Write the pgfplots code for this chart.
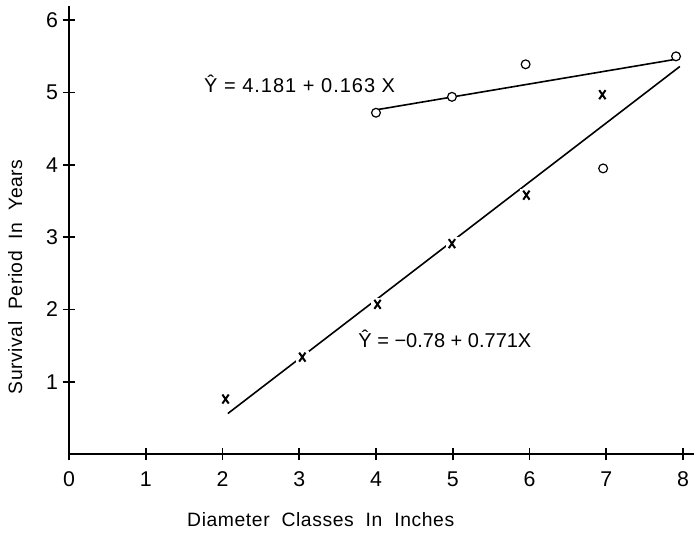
\documentclass[border=0pt]{standalone}
\usepackage{pgfplots}
\pgfplotsset{compat=1.18}
\usepackage{fontspec}
\setmainfont{Liberation Sans}
\begin{document}
\begin{tikzpicture}
\path[use as bounding box] (-51.75pt,-69.75pt) rectangle (470.25pt,340.5pt);
\begin{axis}[
  at={(0,0)}, anchor=south west,
  scale only axis, width=469.1pt, height=336.2pt,
  xmin=0, xmax=8.15, ymin=0, ymax=6.2,
  axis lines=left, axis line style={-, line width=1.4pt},
  xtick={0,...,8}, ytick={1,...,6},
  tick style={line width=1.2pt, black},
  major tick length=9.5pt,
  tick label style={font=\fontsize{16}{18}\selectfont},
  xticklabel style={yshift=-5pt},
  /pgf/number format/assume math mode=true,
  clip=false,
]
% upper regression line
\addplot[black, line width=1.2pt] coordinates {(4.0,4.76) (7.91,5.46)};
% lower regression line
\addplot[black, line width=1.2pt] coordinates {(2.07,0.56) (7.96,5.36)};
% white gaps under x marks
\addplot[only marks, mark=square*, mark size=4.5pt, white] coordinates {
(3.04,1.34) (4.02,2.07) (4.99,2.91) (5.96,3.58)};
% x marks
\addplot[only marks, mark=x, mark size=4.8pt, mark options={xscale=0.7, line width=1.5pt}, black] coordinates {
(2.04,0.76) (3.04,1.34) (4.02,2.07) (4.99,2.91) (5.96,3.58) (6.95,4.97)};
% circles
\addplot[only marks, mark=*, mark size=3.3pt, mark options={fill=white, draw=black, line width=0.9pt}] coordinates {
(4.00,4.72) (4.99,4.94) (5.95,5.39) (6.96,3.95) (7.91,5.50)};
\node[anchor=west, font=\fontsize{15}{17}\selectfont\addfontfeature{LetterSpace=5}] at (axis cs:1.70,5.12) {Ŷ = 4.181 + 0.163 X};
\node[anchor=west, font=\fontsize{15}{17}\selectfont] at (axis cs:3.71,1.59) {Ŷ = −0.78 + 0.771X};
\node[font=\fontsize{14.5}{16}\selectfont\addfontfeature{LetterSpace=3}] at (axis cs:3.28,-0.91) {Diameter\ \ Classes\ \ In\ \ Inches};
\node[rotate=90, font=\fontsize{14.5}{16}\selectfont\addfontfeature{LetterSpace=3}] at (axis cs:-0.70,2.45) {Survival\ \ Period\ \ In\ \ Years};
\end{axis}
\end{tikzpicture}
\end{document}
